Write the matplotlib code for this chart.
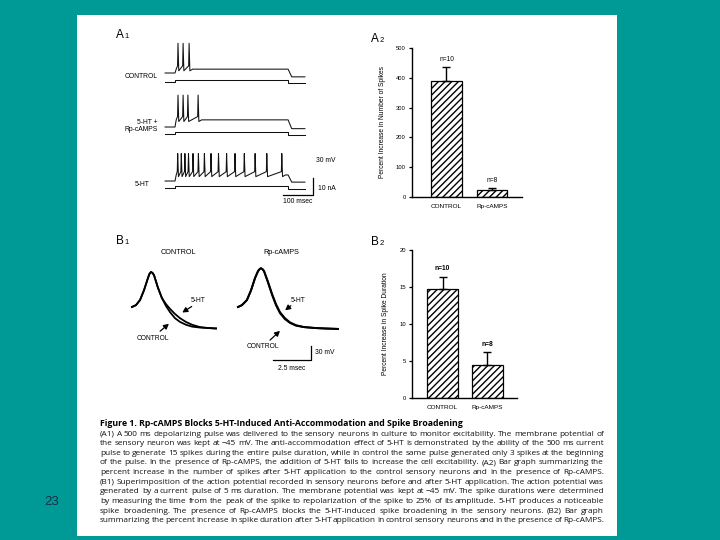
import matplotlib
matplotlib.use("Agg")
import matplotlib.pyplot as plt
from matplotlib.patches import Rectangle

W, H = 720, 540
TEAL = "#009a96"
LAB_FONT = "Liberation Sans"
CAP_FONT = "Open Sans"

# ---- A1: membrane voltage traces (ms from pulse onset, mV re: rest) ----
a1_names = ["CONTROL", "5-HT +\nRp-cAMPS", "5-HT"]
a1_spikes = [
    [10, 27, 47],
    [10, 27, 43, 77],
    [9, 21, 33, 45, 60, 78, 98, 120, 145, 172, 200, 231, 267, 306, 356],
]
a1_peak = [54, 58, 50]
a1_plateau = [7, 13, 11]
a1_after = [-7, -3, -2]
a1_current = [0.0, 1.2, -0.5]   # nA: before, during, after the pulse
pulse_ms = 377

# ---- A2: percent increase in number of spikes ----
a2_groups = ["CONTROL", "Rp-cAMPS"]
a2_values = [390, 22]
a2_err = [45, 9]
a2_n = ["n=10", "n=8"]

# ---- B1: single action potentials (ms, mV re: onset) ----
b1_ctrl_t = [0, 0.26, 0.53, 0.79, 1.05, 1.15, 1.25, 1.35, 1.45, 1.71, 1.97,
             2.24, 2.5, 2.83, 3.16, 3.55, 3.95, 4.47, 5.0, 5.53]
b1_ctrl_control = [0, 4, 15, 36, 62, 71, 75, 73, 68, 41, 19,
                   2, -11, -24, -32, -38, -42, -44, -45, -46]
b1_ctrl_5ht = [0, 4, 15, 36, 62, 71, 75, 73, 68, 41, 19,
               6, -4, -15, -24, -32, -38, -43, -45, -46]
b1_rp_t = [0, 0.26, 0.59, 0.86, 1.12, 1.32, 1.42, 1.51, 1.61, 1.71, 1.97,
           2.24, 2.5, 2.76, 3.09, 3.42, 3.82, 4.34, 5.07, 5.72, 6.58]
b1_rp_control = [0, 4, 15, 36, 62, 77, 81, 83, 81, 77, 53,
                 26, 4, -13, -26, -34, -40, -43, -45, -46, -47]
b1_rp_5ht = [0, 4, 15, 36, 62, 77, 81, 83, 81, 77, 54,
             28, 6, -11, -24, -33, -39, -43, -45, -46, -47]

# ---- B2: percent increase in spike duration ----
b2_groups = ["CONTROL", "Rp-cAMPS"]
b2_values = [14.7, 4.4]
b2_err = [1.7, 1.8]
b2_n = ["n=10", "n=8"]

caption_title = "Figure 1. Rp-cAMPS Blocks 5-HT-Induced Anti-Accommodation and Spike Broadening"
caption_lines = [
    "(A1) A 500 ms depolarizing pulse was delivered to the sensory neurons in culture to monitor excitability. The membrane potential of",
    "the sensory neuron was kept at \u221245 mV. The anti-accommodation effect of 5-HT is demonstrated by the ability of the 500 ms current",
    "pulse to generate 15 spikes during the entire pulse duration, while in control the same pulse generated only 3 spikes at the beginning",
    "of the pulse. In the presence of Rp-cAMPS, the addition of 5-HT fails to increase the cell excitability. (A2) Bar graph summarizing the",
    "percent increase in the number of spikes after 5-HT application to the control sensory neurons and in the presence of Rp-cAMPS.",
    "(B1) Superimposition of the action potential recorded in sensory neurons before and after 5-HT application. The action potential was",
    "generated by a current pulse of 5 ms duration. The membrane potential was kept at \u221245 mV. The spike durations were determined",
    "by measuring the time from the peak of the spike to repolarization of the spike to 25% of its amplitude. 5-HT produces a noticeable",
    "spike broadening. The presence of Rp-cAMPS blocks the 5-HT-induced spike broadening in the sensory neurons. (B2) Bar graph",
    "summarizing the percent increase in spike duration after 5-HT application in control sensory neurons and in the presence of Rp-cAMPS.",
]

fig = plt.figure(figsize=(W / 100, H / 100), dpi=100, facecolor=TEAL)
fig.patches.append(Rectangle((77 / W, 1 - 536 / H), 540 / W, 521 / H,
                             transform=fig.transFigure, facecolor="white",
                             edgecolor="none", zorder=-5))


def px_axes(x0, y0, x1, y1):
    # axes from a pixel box of the 720x540 picture (y downwards)
    ax = fig.add_axes([x0 / W, 1 - y1 / H, (x1 - x0) / W, (y1 - y0) / H])
    ax.patch.set_alpha(0)
    return ax


def ftext(x, y, s, **kw):
    kw.setdefault("family", LAB_FONT)
    return fig.text(x / W, 1 - y / H, s, **kw)


def farrow(x0, y0, x1, y1):
    fig.add_artist(matplotlib.patches.FancyArrowPatch(
        (x0 / W, 1 - y0 / H), (x1 / W, 1 - y1 / H), transform=fig.transFigure,
        arrowstyle="-|>,head_length=3,head_width=1.6", color="black", lw=0.9))


def panel_label(x, y, letter, num):
    ftext(x, y, letter, fontsize=8.5, va="baseline", ha="left")
    ftext(x + 8.5, y, num, fontsize=5.5, va="baseline", ha="left")


# ------------------------- A1 -------------------------
def build_trace(spikes, peak, plateau, after):
    t = [-33, 0, 4]
    v = [0, 0, plateau]
    for s in spikes:
        t += [s - 1.5, s, s + 2.5]
        v += [plateau + 6, peak, plateau - 3]
    t += [spikes[-1] + 12, pulse_ms, pulse_ms + 12, 433]
    v += [plateau, plateau, after, after]
    return t, v


ax = px_axes(160, 35, 340, 205)
ax.set_xlim(-50, 550)
ax.set_ylim(0, 170 / 0.55)
ax.axis("off")
v_offsets = [240, 141.8, 43.6]
i_offsets = [223.6, 129, 30.9]
gain = 2.9  # drawing units per nA
for k in range(3):
    t, v = build_trace(a1_spikes[k], a1_peak[k], a1_plateau[k], a1_after[k])
    ax.plot(t, [vv + v_offsets[k] for vv in v], color="#111111", lw=0.75)
    ci = [a1_current[0], a1_current[0], a1_current[1], a1_current[1],
          a1_current[2], a1_current[2]]
    ct = [-33, 0, 0, pulse_ms, pulse_ms, 433]
    ax.plot(ct, [c * gain + i_offsets[k] for c in ci], color="#111111",
            lw=0.75)
ax.plot([460, 460, 360], [18.2 + 30, 18.2, 18.2], color="black", lw=0.9,
        clip_on=False)

ftext(158, 77, a1_names[0], fontsize=4.9, ha="right", va="center")
ftext(158, 126, a1_names[1], fontsize=4.9, ha="right", va="center",
      linespacing=1.1)
ftext(150, 184, a1_names[2], fontsize=4.9, ha="right", va="center")
ftext(316, 160, "30 mV", fontsize=4.9, ha="left", va="center")
ftext(318, 188, "10 nA", fontsize=4.9, ha="left", va="center")
ftext(298, 202, "100 msec", fontsize=4.9, ha="center", va="center")
panel_label(116, 38, "A", "1")


# ------------------------- bar panels -------------------------
def bar_panel(box, groups, values, errs, ns, ymax, step, ylabel, xlim,
              n_bold):
    ax = px_axes(*box)
    pos = list(range(len(values)))
    ax.bar(pos, values, width=0.68, color="white", edgecolor="black",
           hatch="/////", linewidth=0.9, zorder=2)
    ax.errorbar(pos, values, yerr=[[0] * len(errs), errs], fmt="none",
                ecolor="black", elinewidth=1.0, capsize=3, capthick=1.0,
                zorder=3)
    for p, v, e, n in zip(pos, values, errs, ns):
        ax.annotate(n, (p, v + e), xytext=(0, 3), textcoords="offset points",
                    ha="center", va="bottom", fontsize=4.8, family=LAB_FONT,
                    fontweight="bold" if n_bold else "normal")
    ax.set_xlim(*xlim)
    ax.set_ylim(0, ymax)
    ax.set_yticks(range(0, ymax + 1, step))
    ax.set_xticks(pos)
    ax.set_xticklabels(groups)
    for s in ["top", "right"]:
        ax.spines[s].set_visible(False)
    for s in ["left", "bottom"]:
        ax.spines[s].set_linewidth(1.0)
    ax.tick_params(axis="y", length=2.5, width=0.9, labelsize=4.2, pad=2)
    ax.tick_params(axis="x", length=0, labelsize=4.6, pad=5)
    for lab in ax.get_xticklabels() + ax.get_yticklabels():
        lab.set_family(LAB_FONT)
    ax.set_ylabel(ylabel, fontsize=4.8, family=LAB_FONT, labelpad=7)
    return ax


bar_panel((412, 48, 522, 197), a2_groups, a2_values, a2_err, a2_n, 500, 100,
          "Percent Increase in Number of Spikes", (-0.758, 1.66), False)
panel_label(371, 42, "A", "2")

bar_panel((412, 250, 517, 398), b2_groups, b2_values, b2_err, b2_n, 20, 5,
          "Percent Increase in Spike Duration", (-0.678, 1.656), True)
panel_label(371, 245, "B", "2")

# ------------------------- B1 -------------------------
px_ms, px_mv = 15.2, 0.467
axl = px_axes(120, 260, 225, 375)
axl.set_xlim((120 - 132) / px_ms, (225 - 132) / px_ms)
axl.set_ylim((307 - 375) / px_mv, (307 - 260) / px_mv)
axl.axis("off")
axl.plot(b1_ctrl_t, b1_ctrl_5ht, color="black", lw=1.3, solid_joinstyle="round")
axl.plot(b1_ctrl_t, b1_ctrl_control, color="black", lw=1.3,
         solid_joinstyle="round")

axr = px_axes(226, 260, 345, 375)
axr.set_xlim((226 - 238) / px_ms, (345 - 238) / px_ms)
axr.set_ylim((307 - 375) / px_mv, (307 - 260) / px_mv)
axr.axis("off")
axr.plot(b1_rp_t, b1_rp_5ht, color="black", lw=1.4, solid_joinstyle="round")
axr.plot(b1_rp_t, b1_rp_control, color="black", lw=1.4,
         solid_joinstyle="round")
axr.plot([4.8, 4.8, 2.3], [-83.5, -113.5, -113.5], color="black", lw=0.9,
         clip_on=False)

panel_label(116, 244, "B", "1")
ftext(178, 253, "CONTROL", fontsize=5.2, ha="center", va="center")
ftext(281, 253, "Rp-cAMPS", fontsize=5.2, ha="center", va="center")
ftext(198, 301, "5-HT", fontsize=4.8, ha="center", va="center")
farrow(194, 305, 180, 314)
ftext(153, 338, "CONTROL", fontsize=4.8, ha="center", va="center")
farrow(158, 333, 171, 322)
ftext(298, 301, "5-HT", fontsize=4.8, ha="center", va="center")
farrow(293, 304, 283, 312)
ftext(263, 347, "CONTROL", fontsize=4.8, ha="center", va="center")
farrow(268, 342, 282, 329)
ftext(315, 353, "30 mV", fontsize=4.9, ha="left", va="center")
ftext(292, 369, "2.5 msec", fontsize=4.9, ha="center", va="center")

# ------------------------- caption -------------------------
ftext(100, 424, caption_title, fontsize=6.3, fontweight="bold",
      family=CAP_FONT, ha="left", va="center")
fig.canvas.draw()
rend = fig.canvas.get_renderer()
x_left, x_right = 100, 604
for i, line in enumerate(caption_lines):
    y = 434 + i * 9.65
    words = line.split(" ")
    objs = [ftext(x_left, y, w, fontsize=5.95, family=CAP_FONT, ha="left",
                  va="center", color="#111111") for w in words]
    widths = [o.get_window_extent(rend).width for o in objs]
    gap = (x_right - x_left - sum(widths)) / (len(words) - 1)
    x = x_left
    for o, w in zip(objs, widths):
        o.set_x(x / W)
        x += w + gap

ftext(52, 502, "23", fontsize=9.5, ha="center", va="center", color="#1c2d4c")

fig.savefig("out.png", dpi=100, facecolor=TEAL)
